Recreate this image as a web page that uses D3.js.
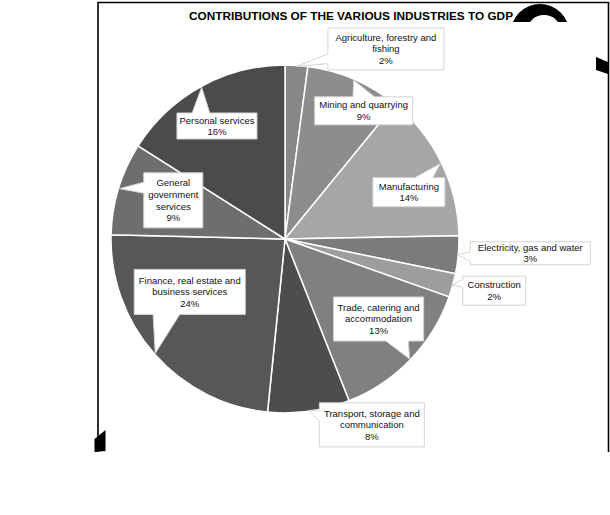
<!DOCTYPE html>
<html>
<head>
<meta charset="utf-8">
<script src="https://cdn.jsdelivr.net/npm/d3@7"></script>
<style>
  html, body { margin: 0; padding: 0; background: #ffffff; }
  svg { display: block; }
  text { font-family: "Liberation Sans", Arial, sans-serif; }
</style>
</head>
<body>
<svg id="chart" width="610" height="515"></svg>
<script>
// ---- data ----
const title = "CONTRIBUTIONS OF THE VARIOUS INDUSTRIES TO GDP";
const categories = [
  "Agriculture, forestry and fishing",
  "Mining and quarrying",
  "Manufacturing",
  "Electricity, gas and water",
  "Construction",
  "Trade, catering and accommodation",
  "Transport, storage and communication",
  "Finance, real estate and business services",
  "General government services",
  "Personal services"
];
// share of GDP (%)
const shares = [2.1, 8.8, 13.8, 3.5, 2.2, 13.6, 7.6, 23.8, 8.6, 16.0];
// percentage labels as printed in the callouts
const percentLabels = ["2%", "9%", "14%", "3%", "2%", "13%", "8%", "24%", "9%", "16%"];
// how each category name wraps in its callout
const labelLines = [
  ["Agriculture, forestry and", "fishing"],
  ["Mining and quarrying"],
  ["Manufacturing"],
  ["Electricity, gas and water"],
  ["Construction"],
  ["Trade, catering and", "accommodation"],
  ["Transport, storage and", "communication"],
  ["Finance, real estate and", "business services"],
  ["General", "government", "services"],
  ["Personal services"]
];

// ---- styles / layout ----
const sliceColors = ["#878787", "#8d8d8d", "#a6a6a6", "#7b7b7b", "#9d9d9d",
                     "#808080", "#4d4d4d", "#575757", "#6e6e6e", "#4b4b4b"];
const cx = 285, cy = 239, radius = 174, tipRadius = 173;
// callout box: offset of box centre from the wedge tip, box size, wedge side and base fractions
const callouts = [
  { dx: 89.5, dy: -17.4, w: 116, h: 42, side: "left",   b: [0.62, 0.85] },
  { dx: 10,   dy: 30.6,  w: 98,  h: 28, side: "top",    b: [0.39, 0.61] },
  { dx: -31.7,dy: 28.8,  w: 72,  h: 29, side: "top",    b: [0.58, 0.83] },
  { dx: 73,   dy: -1.5,  w: 120, h: 23, side: "left",   b: [0.45, 0.85] },
  { dx: 42.5, dy: 5.5,   w: 63,  h: 29, side: "left",   b: [0.12, 0.38] },
  { dx: -31,  dy: -40,   w: 90,  h: 44, side: "bottom", b: [0.58, 0.83] },
  { dx: 63,   dy: 14.5,  w: 105, h: 44, side: "left",   b: [0.17, 0.42] },
  { dx: 34.5, dy: -61.5, w: 111, h: 45, side: "bottom", b: [0.17, 0.41] },
  { dx: 53.8, dy: 11.7,  w: 59,  h: 55, side: "left",   b: [0.17, 0.37] },
  { dx: 15.3, dy: 38.6,  w: 80,  h: 26, side: "top",    b: [0.19, 0.41] }
];

const svg = d3.select("#chart");

// ---- frame and decorations ----
const frame = svg.append("g").attr("stroke", "#000").attr("fill", "none");
frame.append("path").attr("stroke-width", 1.6)
  .attr("d", "M98,452 L98,2.5 L608.5,2.5 L608.5,452");
const deco = svg.append("g").attr("fill", "#000");
const clip = svg.append("defs").append("clipPath").attr("id", "archclip");
clip.append("rect").attr("x", 500).attr("y", 0).attr("width", 90).attr("height", 22);
const ring = d3.path();
ring.arc(540, 33.25, 29.25, 0, 2 * Math.PI);
ring.moveTo(544 + 17.5, 32.5);
ring.arc(544, 32.5, 17.5, 0, 2 * Math.PI);
deco.append("path").attr("d", ring.toString()).attr("fill-rule", "evenodd")
  .attr("clip-path", "url(#archclip)");
deco.append("path").attr("d", "M596,57 L608,62 L608,74 L596,70 Z");
deco.append("path").attr("d", "M94.5,439 L105.5,430 L105.5,451 L94.5,452 Z");

// ---- title ----
svg.append("text")
  .attr("x", 351).attr("y", 20)
  .attr("text-anchor", "middle")
  .attr("font-size", 11.8).attr("font-weight", "bold")
  .attr("fill", "#000")
  .text(title);

// ---- pie ----
const pie = d3.pie().sort(null).value(d => d).startAngle(0).endAngle(2 * Math.PI);
const arcs = pie(shares);
const arc = d3.arc().innerRadius(0).outerRadius(radius);
const tipArc = d3.arc().innerRadius(tipRadius).outerRadius(tipRadius);

const g = svg.append("g").attr("transform", `translate(${cx},${cy})`);
g.selectAll("path.slice")
  .data(arcs)
  .join("path")
  .attr("class", "slice")
  .attr("d", arc)
  .attr("fill", (d, i) => sliceColors[i])
  .attr("stroke", "#ffffff")
  .attr("stroke-width", 1.5)
  .attr("stroke-linejoin", "round");

// ---- callouts ----
function calloutPath(tip, c) {
  const x0 = tip[0] + c.dx - c.w / 2, y0 = tip[1] + c.dy - c.h / 2;
  const x1 = x0 + c.w, y1 = y0 + c.h;
  const [f0, f1] = c.b;
  const p = d3.path();
  p.moveTo(x0, y0);
  if (c.side === "top") {
    p.lineTo(x0 + c.w * f0, y0); p.lineTo(tip[0], tip[1]); p.lineTo(x0 + c.w * f1, y0);
  }
  p.lineTo(x1, y0);
  if (c.side === "right") {
    p.lineTo(x1, y0 + c.h * f0); p.lineTo(tip[0], tip[1]); p.lineTo(x1, y0 + c.h * f1);
  }
  p.lineTo(x1, y1);
  if (c.side === "bottom") {
    p.lineTo(x0 + c.w * f1, y1); p.lineTo(tip[0], tip[1]); p.lineTo(x0 + c.w * f0, y1);
  }
  p.lineTo(x0, y1);
  if (c.side === "left") {
    p.lineTo(x0, y0 + c.h * f1); p.lineTo(tip[0], tip[1]); p.lineTo(x0, y0 + c.h * f0);
  }
  p.closePath();
  return p.toString();
}

const lg = g.append("g");
arcs.forEach((d, i) => {
  const tip = tipArc.centroid(d);
  const c = callouts[i];
  lg.append("path")
    .attr("d", calloutPath(tip, c))
    .attr("fill", "#ffffff")
    .attr("stroke", "#d4d4d4")
    .attr("stroke-width", 1);
  const lines = labelLines[i].concat([percentLabels[i]]);
  const bx = tip[0] + c.dx, by = tip[1] + c.dy;
  const lh = 11.6;
  const t = lg.append("text")
    .attr("text-anchor", "middle")
    .attr("font-size", 9.5)
    .attr("fill", "#111");
  lines.forEach((s, k) => {
    t.append("tspan")
      .attr("x", bx)
      .attr("y", by + (k - (lines.length - 1) / 2) * lh + 3.4)
      .text(s);
  });
});
</script>
</body>
</html>
